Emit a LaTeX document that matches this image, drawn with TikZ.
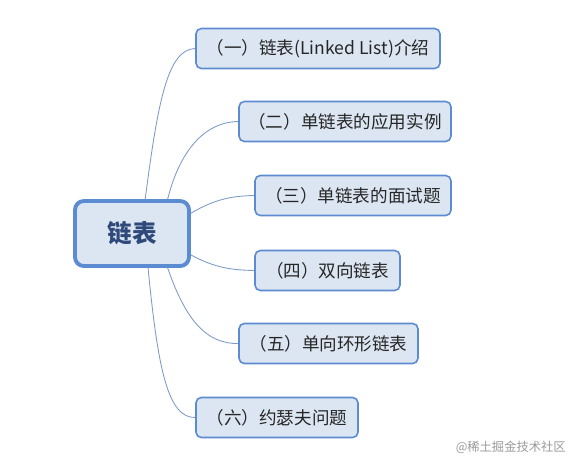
\documentclass[tikz,border=0pt]{standalone}
\usepackage{fontspec}
\setmainfont{Noto Sans CJK SC}
\definecolor{mapline}{RGB}{91,139,208}
\definecolor{mapfill}{RGB}{220,230,242}
\definecolor{maptext}{RGB}{47,74,122}
\definecolor{linkcol}{RGB}{127,156,200}

\begin{document}
\begin{tikzpicture}[x=0.02cm, y=-0.02cm,
      root/.style={draw=mapline, line width=2.2pt, rounded corners=5pt, fill=mapfill,
                   minimum width=2.28cm, minimum height=1.30cm, align=center,
                   font=\fontsize{14}{16}\selectfont\bfseries, text=maptext},
      topic/.style={draw=mapline, line width=0.9pt, rounded corners=3pt, fill=mapfill,
                    minimum height=0.80cm, inner xsep=0pt, align=center,
                    font=\fontsize{10}{12}\selectfont, text=black!85},
      link/.style={draw=linkcol, line width=0.5pt}]

    \useasboundingbox (0,0) rectangle (583,468);

    \node[root] (lst) at (132, 233.5) {链表};

    \node[topic, minimum width=4.88cm] (t1) at (318, 48.5)  {（一）链表(Linked List)介绍};
    \node[topic, minimum width=4.24cm] (t2) at (345, 121.5) {（二）单链表的应用实例};
    \node[topic, minimum width=3.92cm] (t3) at (353, 195.5) {（三）单链表的面试题};
    \node[topic, minimum width=2.90cm] (t4) at (327.5, 270.5) {（四）双向链表};
    \node[topic, minimum width=3.58cm] (t5) at (328.5, 343.5) {（五）单向环形链表};
    \node[topic, minimum width=3.24cm] (t6) at (277, 417.5) {（六）约瑟夫问题};

    \draw[link] (lst.69)  .. controls (158,100) and (168,49)  .. (t1.west);
    \draw[link] (lst.44)  .. controls (180,150) and (205,122) .. (t2.west);
    \draw[link] (lst.19)  .. controls (215,199) and (232,196) .. (t3.west);
    \draw[link] (lst.-20) .. controls (215,268) and (232,270) .. (t4.west);
    \draw[link] (lst.-44) .. controls (185,318) and (205,344) .. (t5.west);
    \draw[link] (lst.-65) .. controls (158,370) and (168,418) .. (t6.west);

    \node[anchor=east, text=black!40, font=\fontsize{7}{8}\selectfont] (wm) at (572, 447) {@稀土掘金技术社区};
  \end{tikzpicture}
\end{document}
